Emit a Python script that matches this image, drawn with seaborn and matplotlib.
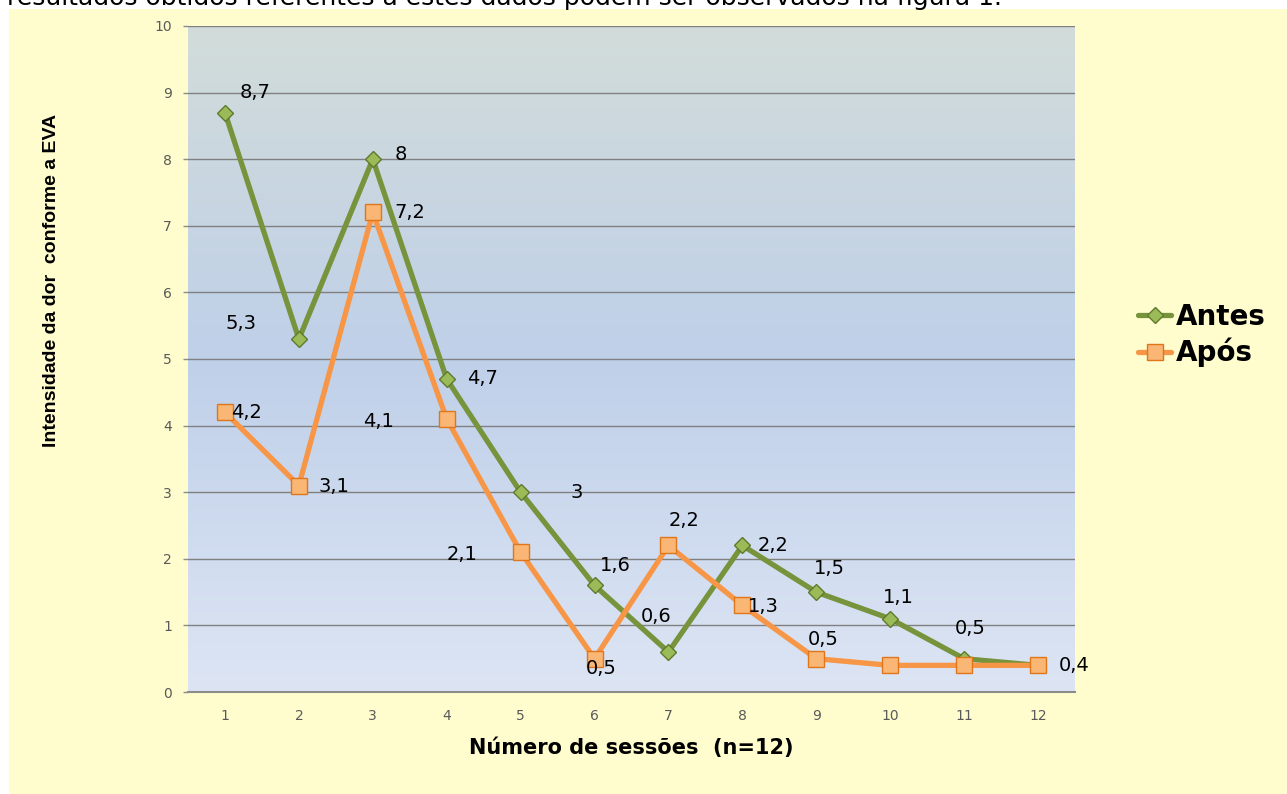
import numpy as np
import pandas as pd
import matplotlib
matplotlib.use("Agg")
import matplotlib.pyplot as plt
from matplotlib.colors import LinearSegmentedColormap
from matplotlib.patches import Rectangle
import seaborn as sns

# Dados: intensidade da dor (EVA) antes e após cada sessão
sessoes = list(range(1, 13))
antes = [8.7, 5.3, 8.0, 4.7, 3.0, 1.6, 0.6, 2.2, 1.5, 1.1, 0.5, 0.4]
apos = [4.2, 3.1, 7.2, 4.1, 2.1, 0.5, 2.2, 1.3, 0.5, 0.4, 0.4, 0.4]
series_names = ["Antes", "Após"]
y_ticks = list(range(0, 11))

# Deslocamento (px) de cada rótulo de valor; None = sem rótulo
label_offsets = {
    "Antes": [(30, 20), (-58, 16), (28, 5), (36, 0), (56, 0), (21, 20),
              (-12, 36), (31, 0), (13, 24), (8, 21), (6, 30), None],
    "Após": [(22, 0), (35, -1), (37, 0), (-68, -3), (-59, -2), (7, -10),
             (16, 25), (21, -1), (7, 19), None, None, (36, 0)],
}

sns.set_theme(style="white")
plt.rcParams["font.family"] = ["DejaVu Sans"]
plt.rcParams["text.color"] = "black"

df = pd.DataFrame({
    "sessao": sessoes * 2,
    "valor": antes + apos,
    "momento": [series_names[0]] * len(antes) + [series_names[1]] * len(apos),
})

W, H = 1287, 794
fig = plt.figure(figsize=(W / 100, H / 100), dpi=100, facecolor="white")

# Fundo amarelo da figura
fig.add_artist(Rectangle((9 / W, 0), 1, 1 - 9 / H, transform=fig.transFigure,
                         facecolor="#FFFDCD", edgecolor="none", zorder=-10))

# Linha de texto do documento, cortada no topo da página
fig.text(7 / W, 1 - 5 / H,
         "resultados obtidos referentes a estes dados podem ser observados na figura 1.",
         fontsize=18, color="black", ha="left", va="baseline")

ax = fig.add_axes([188 / W, 1 - 692 / H, (1075 - 188) / W, (692 - 26) / H])
ax.patch.set_alpha(0)

# Gradiente da área de plotagem
cmap = LinearSegmentedColormap.from_list(
    "fundo", [(0.0, "#DDE5F4"), (0.5, "#BFD0E9"), (1.0, "#D2DCDA")])
grad = np.linspace(0, 1, 256).reshape(-1, 1)
ax.imshow(grad, cmap=cmap, origin="lower", extent=[0, 1, 0, 1],
          transform=ax.transAxes, aspect="auto", zorder=-1)

palette = {"Antes": "#77933C", "Após": "#F79646"}
sns.lineplot(data=df, x="sessao", y="valor", hue="momento", style="momento",
             hue_order=series_names, style_order=series_names,
             markers={"Antes": "D", "Após": "s"}, dashes=False,
             palette=palette, linewidth=3.8, legend=False, ax=ax, zorder=3)

marker_style = {
    "Antes": dict(markersize=7.8, markerfacecolor="#9BBB59",
                  markeredgecolor="#5F7A2D", markeredgewidth=1.0),
    "Após": dict(markersize=11, markerfacecolor="#F9B675",
                 markeredgecolor="#E0761C", markeredgewidth=1.0),
}
for line, name in zip(ax.lines[:2], series_names):
    line.set(**marker_style[name])
ax.lines[1].set_zorder(4)

# Rótulos de valor
for name, values in zip(series_names, [antes, apos]):
    for x, v, off in zip(sessoes, values, label_offsets[name]):
        if off is None:
            continue
        ax.annotate(f"{v:g}".replace(".", ","), xy=(x, v), xytext=off,
                    textcoords="offset pixels", ha="center", va="center",
                    fontsize=14, color="black", zorder=6)

ax.set_xlim(0.5, 12.5)
ax.set_ylim(0, 10)
ax.set_xticks(sessoes)
ax.set_yticks(y_ticks)
ax.grid(axis="y", color="#808080", linewidth=1.0)
ax.grid(axis="x", visible=False)
ax.set_axisbelow(True)

for side in ["top", "right", "left"]:
    ax.spines[side].set_visible(False)
ax.spines["bottom"].set_color("#8C8C8C")
ax.spines["bottom"].set_linewidth(1.5)

ax.tick_params(axis="y", left=True, length=3.6, width=1, color="#8C8C8C",
               labelsize=10, labelcolor="#595959", pad=8)
ax.tick_params(axis="x", bottom=False, length=0, labelsize=10,
               labelcolor="#595959", pad=12)

ax.set_xlabel("Número de sessões  (n=12)", fontsize=15, fontweight="bold",
              color="black")
ax.xaxis.set_label_coords(0.5, (46 - 102) / 666)
ax.xaxis.label.set_verticalalignment("center")

ax.set_ylabel("Intensidade da dor  conforme a EVA", fontsize=14,
              fontweight="bold", color="black", family="Liberation Sans")
ax.yaxis.set_label_coords((52 - 188) / 887, (514 - 102) / 666)
ax.yaxis.label.set_verticalalignment("center")
ax.yaxis.label.set_horizontalalignment("center")

leg = fig.legend(handles=ax.lines[:2], labels=series_names, loc="center left",
                 bbox_to_anchor=(1138 / W, 1 - 335 / H), frameon=False,
                 prop=dict(weight="bold", size=20), handlelength=1.2,
                 handletextpad=0.15, labelspacing=0.25, borderpad=0,
                 borderaxespad=0)
for t in leg.get_texts():
    t.set_color("black")

fig.savefig("out.png", dpi=100, facecolor=fig.get_facecolor())
